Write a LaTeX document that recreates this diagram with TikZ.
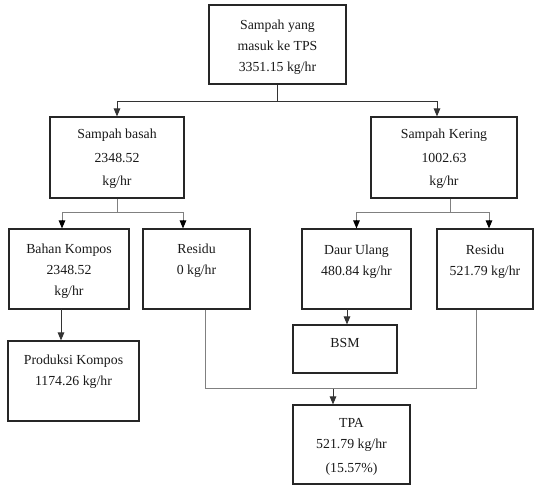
\documentclass[tikz,border=0pt]{standalone}
\usepackage{fontspec}
\setmainfont{Liberation Serif}
\usetikzlibrary{arrows.meta}
\begin{document}
\begin{tikzpicture}[x=1pt,y=1pt,
  box/.style={draw=black!85, line width=1.1pt, rectangle, inner sep=0pt},
  txt/.style={anchor=north, inner sep=0pt, align=center, text=black!90, font=\fontsize{13.8}{21}\selectfont},
  conn/.style={draw=black!50, line width=1pt},
  darkconn/.style={draw=black!80, line width=1pt},
  arr/.style={-{Triangle[length=8pt,width=6.5pt]}}]
\useasboundingbox (0,0) rectangle (539,486);
% boxes
\node[box, minimum width=137pt, minimum height=79pt] (top) at (277.5,441.5) {};
\node[box, minimum width=134pt, minimum height=81pt] (basah) at (117,328.5) {};
\node[box, minimum width=146pt, minimum height=81pt] (kering) at (444,328.5) {};
\node[box, minimum width=120pt, minimum height=80pt] (bahan) at (69,217) {};
\node[box, minimum width=107pt, minimum height=80pt] (res1) at (196.5,217) {};
\node[box, minimum width=109pt, minimum height=80pt] (daur) at (356.5,217) {};
\node[box, minimum width=96pt, minimum height=80pt] (res2) at (485,217) {};
\node[box, minimum width=131pt, minimum height=80pt] (prod) at (73.5,105) {};
\node[box, minimum width=104pt, minimum height=48pt] (bsm) at (345,137) {};
\node[box, minimum width=117pt, minimum height=79pt] (tpa) at (351.5,41.5) {};
% texts
\node[txt] (ttop) at ([yshift=-15pt]top.north) {Sampah yang\\masuk ke TPS\\3351.15 kg/hr};
\node[txt] (tbasah) at ([yshift=-12pt]basah.north) {Sampah basah\\[3pt]2348.52\\[2pt]kg/hr};
\node[txt] (tkering) at ([yshift=-12pt]kering.north) {Sampah Kering\\[3pt]1002.63\\[2pt]kg/hr};
\node[txt] (tbahan) at ([yshift=-15pt]bahan.north) {Bahan Kompos\\2348.52\\kg/hr};
\node[txt] (tres1) at ([yshift=-15pt]res1.north) {Residu\\0 kg/hr};
\node[txt] (tdaur) at ([yshift=-16pt]daur.north) {Daur Ulang\\480.84 kg/hr};
\node[txt] (tres2) at ([yshift=-16pt]res2.north) {Residu\\521.79 kg/hr};
\node[txt] (tprod) at ([yshift=-14pt]prod.north) {Produksi Kompos\\1174.26 kg/hr};
\node[txt] (tbsm) at ([yshift=-14pt]bsm.north) {BSM};
\node[txt] (ttpa) at ([yshift=-14pt]tpa.north) {TPA\\521.79 kg/hr\\[3pt](15.57\%)};
% junction coordinates
\coordinate (j0) at (277.5,384);
\coordinate (j1) at (117,273);
\coordinate (j2) at (450,273);
\coordinate (j3) at (205,97);
\coordinate (j4) at (476,97);
\coordinate (j5) at (333,97);
\coordinate (c1) at (61,177);
\coordinate (c2) at (347,177);
% top split
\draw[darkconn] (top.south) -- (j0);
\draw[darkconn, arr] (j0) -| (basah.north);
\draw[darkconn, arr] (j0) -| ([xshift=-7pt]kering.north);
% basah split
\draw[conn] (basah.south) -- (j1);
\draw[conn] (j1) -| ([xshift=-7pt,yshift=8pt]bahan.north);
\draw[conn] (j1) -| ([xshift=-13.5pt,yshift=8pt]res1.north);
\draw[arr, line width=1pt] ([xshift=-7pt,yshift=8pt]bahan.north) -- ([xshift=-7pt]bahan.north);
\draw[arr, line width=1pt] ([xshift=-13.5pt,yshift=8pt]res1.north) -- ([xshift=-13.5pt]res1.north);
% kering split
\draw[conn] ([xshift=6pt]kering.south) -- (j2);
\draw[conn] (j2) -| ([yshift=8pt]daur.north);
\draw[conn] (j2) -| ([xshift=4pt,yshift=8pt]res2.north);
\draw[arr, line width=1pt] ([yshift=8pt]daur.north) -- (daur.north);
\draw[arr, line width=1pt] ([xshift=4pt,yshift=8pt]res2.north) -- ([xshift=4pt]res2.north);
% vertical arrows
\draw[darkconn, arr] (c1) -- (c1 |- prod.north);
\draw[darkconn, arr] (c2) -- (c2 |- bsm.north);
% collector to TPA
\draw[conn] ([xshift=8.5pt]res1.south) -- (j3) -- (j4) -- ([xshift=-9pt]res2.south);
\draw[darkconn, arr] (j5) -- (j5 |- tpa.north);
\end{tikzpicture}
\end{document}
